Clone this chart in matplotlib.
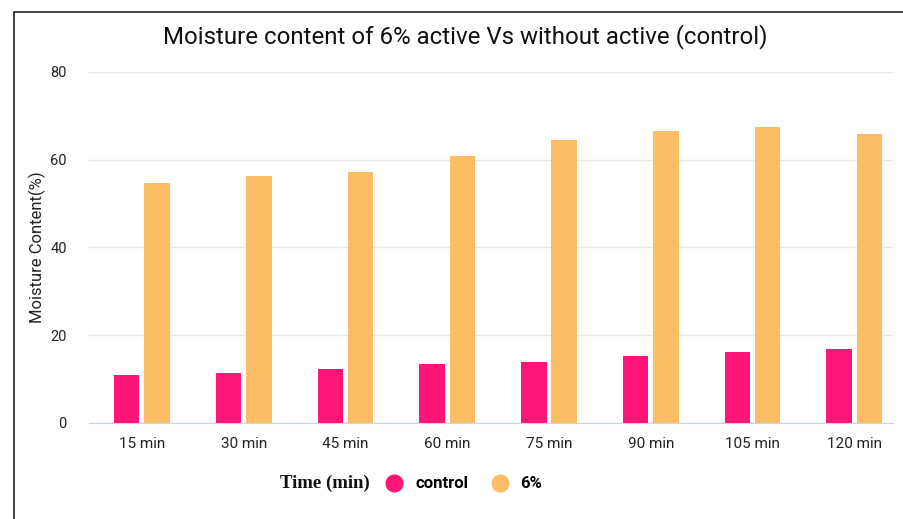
import numpy as np
import matplotlib.pyplot as plt
from matplotlib.lines import Line2D
from matplotlib.patches import Rectangle

# values
times = ['15 min', '30 min', '45 min', '60 min', '75 min', '90 min', '105 min', '120 min']
control = [10.9, 11.3, 12.2, 13.4, 14.0, 15.3, 16.1, 16.8]
active_6 = [54.8, 56.4, 57.3, 60.9, 64.6, 66.6, 67.5, 65.8]

pink = '#ff1578'
orange = '#fdbd65'

plt.rcParams['font.family'] = ['Roboto', 'DejaVu Sans']

fig = plt.figure(figsize=(9.04, 5.19), dpi=100)
ax = fig.add_axes([89 / 904, 1 - 423 / 519, 804 / 904, 351 / 519])

x = np.arange(len(times))
w = 0.25
off = 0.149
ax.bar(x - off, control, width=w, color=pink, zorder=3)
ax.bar(x + off, active_6, width=w, color=orange, zorder=3)

ax.set_xlim(-0.52, 7.38)
ax.set_ylim(0, 80)
ax.set_yticks([0, 20, 40, 60, 80])
ax.set_xticks(x)
ax.set_xticklabels(times)
ax.tick_params(axis='both', length=0, colors='#222222')
ax.tick_params(axis='x', pad=10, labelsize=11)
ax.tick_params(axis='y', pad=16, labelsize=10.5)
ax.grid(axis='y', color='#e4e8ee', linewidth=1, zorder=0)
for s in ['top', 'right', 'left']:
    ax.spines[s].set_visible(False)
ax.spines['bottom'].set_color('#c9d5e3')
ax.spines['bottom'].set_zorder(4)

ax.set_ylabel('Moisture Content(%)', fontsize=12, color='#222222', labelpad=3)

fig.text(465 / 904, 1 - 37 / 519, 'Moisture content of 6% active Vs without active (control)',
         ha='center', va='center', fontsize=17.3, color='#111111')

# x axis title sits in the legend row
fig.text(325 / 904, 1 - 483 / 519, 'Time (min)', ha='center', va='center',
         fontsize=13.5, fontweight='bold', family='Liberation Serif', color='#111111')

handles = [Line2D([], [], marker='o', linestyle='', markersize=12, color=pink),
           Line2D([], [], marker='o', linestyle='', markersize=12, color=orange)]
leg = fig.legend(handles, ['control', '6%'], loc='center', bbox_to_anchor=(460 / 904, 1 - 484 / 519),
                 ncol=2, frameon=False, handletextpad=0.25, columnspacing=0.9,
                 prop={'weight': 'bold', 'size': 12})

# outer frame of the screenshot
fig.patches.append(Rectangle((14 / 904, -0.1), 1.2, 1 - 12 / 519 + 0.1, transform=fig.transFigure,
                             fill=False, edgecolor='#222222', linewidth=1.2))

fig.savefig('out.png', dpi=100)
